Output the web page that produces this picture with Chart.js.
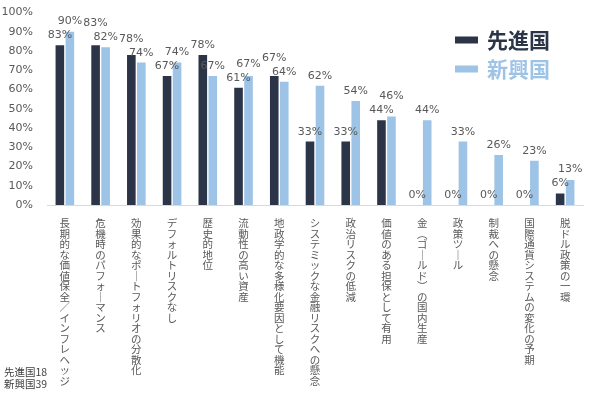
<!DOCTYPE html>
<html>
<head>
<meta charset="utf-8">
<script src="https://cdn.jsdelivr.net/npm/chart.js@4.4.1/dist/chart.umd.min.js"></script>
<style>
  html, body { margin: 0; padding: 0; background: #fff; }
  #wrap { width: 600px; height: 397px; position: relative; }
</style>
</head>
<body>
<div id="wrap"><canvas id="goldChart"></canvas></div>
<script>
/* ============================================================
   DATA
   ============================================================ */

const categories = [
  '長期的な価値保全／インフレヘッジ',
  '危機時のパフォーマンス',
  '効果的なポートフォリオの分散化',
  'デフォルトリスクなし',
  '歴史的地位',
  '流動性の高い資産',
  '地政学的な多様化要因として機能',
  'システミックな金融リスクへの懸念',
  '政治リスクの低減',
  '価値のある担保として有用',
  '金（ゴールド）の国内生産',
  '政策ツール',
  '制裁への懸念',
  '国際通貨システムの変化の予期',
  '脱ドル政策の一環',
];
const seriesNames = ['先進国', '新興国'];
const advanced    = [83, 83, 78, 67, 78, 61, 67, 33, 33, 44, 0, 0, 0, 0, 6];
const emerging    = [90, 82, 74, 74, 67, 67, 64, 62, 54, 46, 44, 33, 26, 23, 13];
const sampleNotes = ['先進国18', '新興国39'];

const DARK  = '#2c3547';
const LIGHT = '#9dc3e6';
const GREY  = '#595959';

// vertical-writing forms for the stacked axis labels
const VERT = { 'ー': '｜', '（': '︵', '）': '︶' };
const stack = s => [...s].map(ch => VERT[ch] || ch);

/* ============================================================
   PLUGINS
   ============================================================ */

// value labels above bars; pairs that would collide get pushed apart vertically
const valueLabels = {
  id: 'valueLabels',
  afterDatasetsDraw(chart) {
    const { ctx } = chart;
    const a = chart.getDatasetMeta(0).data;
    const b = chart.getDatasetMeta(1).data;
    const GAP = 14;
    ctx.save();
    ctx.font = '11px "DejaVu Sans"';
    ctx.fillStyle = GREY;
    ctx.textAlign = 'center';
    ctx.textBaseline = 'alphabetic';
    a.forEach((barA, i) => {
      const barB = b[i];
      let ya = barA.y - 7, yb = barB.y - 7;
      const dy = Math.abs(ya - yb);
      if (dy < GAP) {
        if (ya <= yb) ya -= GAP - dy; else yb -= GAP - dy;
      }
      ctx.fillText(advanced[i] + '%', barA.x, ya);
      ctx.fillText(emerging[i] + '%', barB.x, yb);
    });
    ctx.restore();
  },
};

const sideLegend = {
  id: 'sideLegend',
  afterDraw(chart) {
    const { ctx } = chart;
    const x = chart.chartArea.right - 128;
    ctx.save();
    ctx.font = 'bold 21px "Noto Sans CJK JP"';
    ctx.textBaseline = 'middle';
    chart.data.datasets.forEach((ds, i) => {
      const y = 40 + i * 29;
      ctx.fillStyle = ds.backgroundColor;
      ctx.fillRect(x, y - 3.5, 23, 7);
      ctx.fillText(ds.label, x + 32, y);
    });
    ctx.font = '10.5px "Noto Sans CJK JP", "DejaVu Sans"';
    ctx.fillStyle = '#404040';
    ctx.textAlign = 'left';
    sampleNotes.forEach((t, i) => ctx.fillText(t, 4, 372 + i * 12));
    ctx.restore();
  },
};

/* ============================================================
   CHART
   ============================================================ */

new Chart(document.getElementById('goldChart'), {
  type: 'bar',
  data: {
    labels: categories,
    datasets: [
      { label: seriesNames[0], data: advanced, backgroundColor: DARK },
      { label: seriesNames[1], data: emerging, backgroundColor: LIGHT },
    ],
  },
  options: {
    responsive: true,
    maintainAspectRatio: false,
    animation: false,
    categoryPercentage: 0.56,
    barPercentage: 0.86,
    layout: { padding: { top: 12, right: 17, bottom: 0, left: 0 } },
    plugins: { legend: { display: false }, tooltip: { enabled: false } },
    scales: {
      x: {
        grid: { display: false },
        border: { color: '#d9d9d9' },
        afterFit: s => { s.height = 192; },
        ticks: {
          autoSkip: false, maxRotation: 0, minRotation: 0, padding: 5,
          color: GREY,
          font: { family: '"Noto Sans CJK JP"', size: 10.5, lineHeight: 1.0 },
          callback: (v, i) => stack(categories[i]),
        },
      },
      y: {
        min: 0, max: 100,
        grid: { display: false },
        border: { display: false },
        afterFit: s => { s.width = 47; },
        ticks: {
          stepSize: 10, padding: 6, color: GREY,
          font: { family: '"DejaVu Sans"', size: 11 },
          callback: v => v + '%',
        },
      },
    },
  },
  plugins: [valueLabels, sideLegend],
});
</script>
</body>
</html>
